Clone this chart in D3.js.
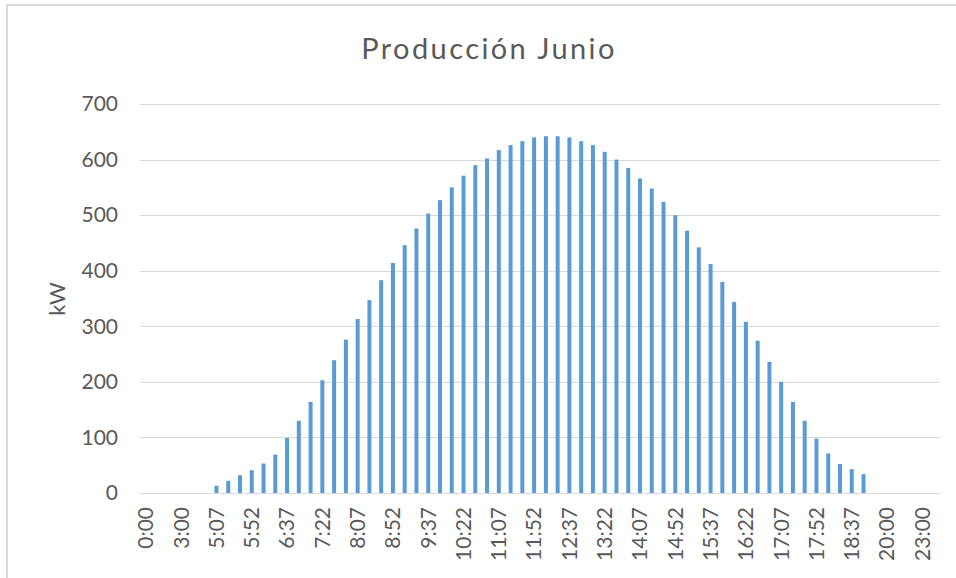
<!DOCTYPE html>
<html>
<head>
<meta charset="utf-8">
<script src="https://cdn.jsdelivr.net/npm/d3@7"></script>
<style>
  body { margin: 0; background: #fff; }
  text { font-family: Lato, "Liberation Sans", sans-serif; fill: #595959; }
</style>
</head>
<body>
<div id="chart"></div>
<script>
// categories (15 min steps during the day, hourly at night)
var horas = ["0:00", "1:00", "2:00", "3:00", "4:00", "4:52",
  "5:07", "5:22", "5:37", "5:52", "6:07", "6:22", "6:37", "6:52",
  "7:07", "7:22", "7:37", "7:52", "8:07", "8:22", "8:37", "8:52",
  "9:07", "9:22", "9:37", "9:52", "10:07", "10:22", "10:37", "10:52",
  "11:07", "11:22", "11:37", "11:52", "12:07", "12:22", "12:37", "12:52",
  "13:07", "13:22", "13:37", "13:52", "14:07", "14:22", "14:37", "14:52",
  "15:07", "15:22", "15:37", "15:52", "16:07", "16:22", "16:37", "16:52",
  "17:07", "17:22", "17:37", "17:52", "18:07", "18:22", "18:37", "18:52",
  "19:07", "20:00", "21:00", "22:00", "23:00", "23:59"];

var produccion = [0, 0, 0, 0, 0, 0,
  13, 22, 32, 41, 53, 69, 99, 130,
  164, 203, 239, 276, 313, 347, 383, 414,
  446, 476, 503, 527, 550, 571, 590, 602,
  617, 626, 633, 640, 642, 642, 640, 633,
  626, 614, 600, 585, 566, 548, 524, 500,
  472, 442, 412, 380, 344, 308, 274, 236,
  200, 164, 130, 98, 71, 52, 43, 34,
  0, 0, 0, 0, 0, 0];

var yTicks = [0, 100, 200, 300, 400, 500, 600, 700];

var W = 956, H = 578;
// plot area (note: "top" is a reserved window property, so use other names)
var plotLeft = 140, plotRight = 940, plotTop = 104, plotBottom = 493;

var svg = d3.select("#chart").append("svg")
  .attr("width", W).attr("height", H);

// chart frame
svg.append("rect")
  .attr("x", 7).attr("y", 5)
  .attr("width", W + 20).attr("height", H + 20)
  .attr("fill", "none")
  .attr("stroke", "#d9d9d9")
  .attr("stroke-width", 2);

var x = d3.scaleBand()
  .domain(horas)
  .range([plotLeft, plotRight])
  .paddingInner(0.66)
  .paddingOuter(0.33);

var y = d3.scaleLinear()
  .domain([0, 700])
  .range([plotBottom, plotTop]);

// gridlines
svg.append("g").selectAll("line")
  .data(yTicks)
  .enter().append("line")
  .attr("x1", plotLeft).attr("x2", plotRight)
  .attr("y1", function (d) { return Math.round(y(d)) + 0.5; })
  .attr("y2", function (d) { return Math.round(y(d)) + 0.5; })
  .attr("stroke", "#d9d9d9")
  .attr("stroke-width", 1);

// y tick labels
var yAxis = svg.append("g")
  .attr("transform", "translate(" + (plotLeft - 22) + ",0)")
  .call(d3.axisLeft(y).tickValues(yTicks).tickSize(0).tickPadding(0));
yAxis.select(".domain").remove();
yAxis.selectAll("text")
  .attr("font-size", 21)
  .attr("font-family", "Lato, 'Liberation Sans', sans-serif")
  .attr("fill", "#595959");

// bars
svg.append("g").selectAll("rect")
  .data(produccion)
  .enter().append("rect")
  .attr("x", function (d, i) { return x(horas[i]); })
  .attr("width", x.bandwidth())
  .attr("y", function (d) { return y(d); })
  .attr("height", function (d) { return y(0) - y(d); })
  .attr("fill", "#5b9bd5");

// x tick labels, every third category, rotated
var xAxis = svg.append("g")
  .attr("transform", "translate(0," + (plotBottom + 14) + ")")
  .call(d3.axisBottom(x)
    .tickValues(horas.filter(function (d, i) { return i % 3 === 0; }))
    .tickSize(0).tickPadding(0));
xAxis.select(".domain").remove();
xAxis.selectAll("text")
  .attr("font-size", 21)
  .attr("font-family", "Lato, 'Liberation Sans', sans-serif")
  .attr("fill", "#595959")
  .attr("transform", "rotate(-90)")
  .attr("text-anchor", "end")
  .attr("dx", 0)
  .attr("dy", "0.35em")
  .attr("y", 0);

// title
svg.append("text")
  .attr("x", 489).attr("y", 59)
  .attr("text-anchor", "middle")
  .attr("font-size", 29)
  .attr("letter-spacing", 2.4)
  .text("Producción Junio");

// y axis title
svg.append("text")
  .attr("transform", "translate(65,299) rotate(-90)")
  .attr("text-anchor", "middle")
  .attr("font-size", 22)
  .text("kW");
</script>
</body>
</html>
